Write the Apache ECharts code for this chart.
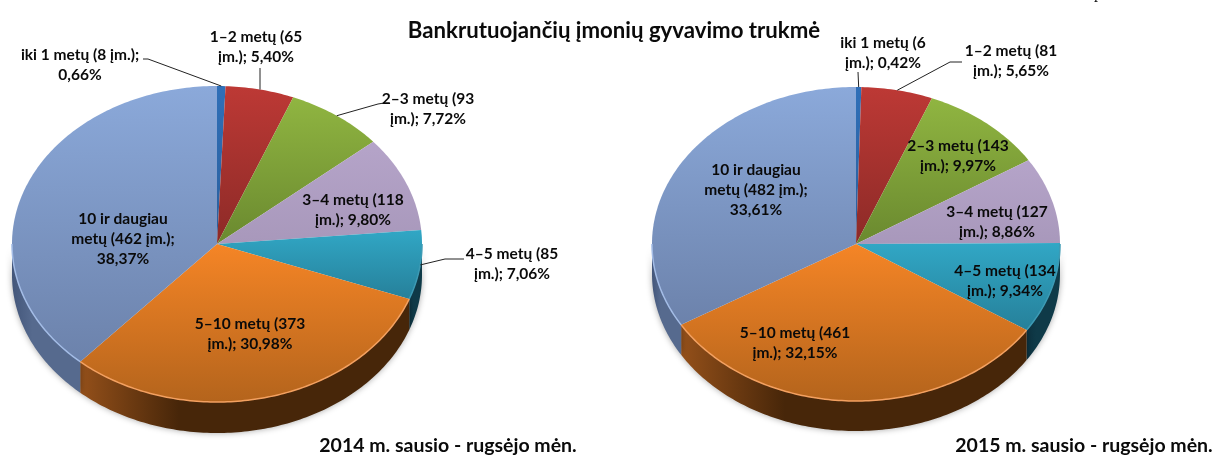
<!DOCTYPE html>
<html>
<head>
<meta charset="utf-8">
<style>html,body{margin:0;padding:0;background:#fff}#main{width:1213px;height:455px}</style>
<script src="https://cdn.jsdelivr.net/npm/echarts@6/dist/echarts.min.js"></script>
</head>
<body>
<div id="main"></div>
<script>
// duomenys
var categories = ['iki 1 metų', '1–2 metų', '2–3 metų', '3–4 metų', '4–5 metų', '5–10 metų', '10 ir daugiau metų'];
var counts2014 = [8, 65, 93, 118, 85, 373, 462];
var shares2014 = ['0,66', '5,40', '7,72', '9,80', '7,06', '30,98', '38,37'];
var counts2015 = [6, 81, 143, 127, 134, 461, 482];
var shares2015 = ['0,42', '5,65', '9,97', '8,86', '9,34', '32,15', '33,61'];

// spalvos
var faceTop = ['#2f6fb8', '#bd3935', '#90b541', '#b5a4c9', '#31a7c5', '#f58526', '#8ba9da'];
var faceBottom = ['#2a5f9c', '#8c2a27', '#6a892f', '#a898bb', '#26809a', '#b4641c', '#6c82ab'];
var sideLeft = ['#1d3f68', '#5e1c1a', '#47601f', '#6f6480', '#0c3240', '#94501a', '#43567a'];
var sideRight = ['#1d3f68', '#5e1c1a', '#47601f', '#6f6480', '#0f3a48', '#472609', '#566a8e'];
var rimColor = ['#2f6fb8', '#bd3935', '#90b541', '#b5a4c9', '#3c9ab4', '#f3a060', '#a3bce6'];

// uzrasu vietos ir linijos
var labelPos2014 = [[80, 65], [256, 47], [428, 109], [353, 210], [512, 264], [250, 334], [123, 239]];
var labelPos2015 = [[883, 53], [1011, 61], [958, 156], [997, 222], [1005, 281], [795, 343], [756, 190]];
var leader2014 = [[[148, 59], [143, 59]], [[260, 68]], [[378, 104], [384, 103]], null, [[445, 259], [464, 259]], null, null];
var leader2015 = [[[858, 72]], [[950, 62], [962, 62]], null, null, null, null, null];

function wrapLabel(text, max) {
    var words = text.split(' '), lines = [], cur = '';
    for (var i = 0; i < words.length; i++) {
        if (cur && (cur + ' ' + words[i]).length > max) {
            lines.push(cur);
            cur = words[i];
        } else {
            cur = cur ? cur + ' ' + words[i] : words[i];
        }
    }
    lines.push(cur);
    return lines.join('\n');
}

function arcPoints(pie, from, to, dy) {
    var pts = [], n = Math.max(2, Math.ceil((to - from) * 60));
    for (var k = 0; k <= n; k++) {
        var t = from + (to - from) * k / n;
        pts.push([pie.cx + pie.rx * Math.sin(t), pie.cy - pie.ry * Math.cos(t) + dy]);
    }
    return pts;
}

function pieSeries(pie, counts, shares, labelPos, leader, wrap) {
    var total = counts.reduce(function (a, b) { return a + b; }, 0);
    return {
        type: 'custom',
        coordinateSystem: 'none',
        silent: true,
        data: counts,
        renderItem: function (params, api) {
            var i = params.dataIndex, sum = 0;
            for (var j = 0; j < i; j++) sum += counts[j];
            var from = sum / total * Math.PI * 2;
            var to = (sum + counts[i]) / total * Math.PI * 2;
            var mid = (from + to) / 2;
            var children = [];

            // sonas (tik priekine dalis)
            var a = Math.max(from, Math.PI / 2), b = Math.min(to, Math.PI * 1.5);
            if (b > a) {
                var top = arcPoints(pie, a, b, 0);
                var bot = arcPoints(pie, a, b, pie.depth).reverse();
                children.push({
                    type: 'polygon',
                    z2: 1,
                    shape: { points: top.concat(bot) },
                    style: {
                        fill: new echarts.graphic.LinearGradient(0, 0, 1, 0, [
                            { offset: 0, color: sideLeft[i] },
                            { offset: 0.3, color: sideRight[i] },
                            { offset: 1, color: sideRight[i] }
                        ]),
                        shadowBlur: 6,
                        shadowColor: 'rgba(0,0,0,0.35)'
                    }
                });
            }

            // virsus
            children.push({
                type: 'polygon',
                z2: 2,
                shape: { points: [[pie.cx, pie.cy]].concat(arcPoints(pie, from, to, 0)) },
                style: {
                    fill: new echarts.graphic.LinearGradient(0, 0, 0, 1, [
                        { offset: 0, color: faceTop[i] },
                        { offset: 1, color: faceBottom[i] }
                    ])
                }
            });

            // sviesus krastas
            if (b > a) {
                children.push({
                    type: 'polyline',
                    z2: 3,
                    shape: { points: arcPoints(pie, a, b, 0) },
                    style: { fill: 'none', stroke: rimColor[i], lineWidth: 1.5 }
                });
            }

            // linijos
            if (leader[i]) {
                var start = arcPoints(pie, mid, mid, 0)[0];
                children.push({
                    type: 'polyline',
                    z2: 3,
                    shape: { points: [start].concat(leader[i]) },
                    style: { fill: 'none', stroke: '#222', lineWidth: 1 }
                });
            }

            // uzrasas
            var text = categories[i] + ' (' + counts[i] + ' įm.); ' + shares[i] + '%';
            children.push({
                type: 'text',
                z2: 4,
                x: labelPos[i][0],
                y: labelPos[i][1],
                style: {
                    text: wrapLabel(text, i === 0 ? wrap : 17),
                    fontFamily: 'Lato',
                    fontWeight: 'bold',
                    fontSize: 15.5,
                    lineHeight: 20,
                    fill: '#0a0a0a',
                    align: 'center',
                    verticalAlign: 'middle'
                }
            });
            return { type: 'group', children: children };
        }
    };
}

var chart = echarts.init(document.getElementById('main'));
var option = {
    animation: false,
    backgroundColor: '#fff',
    title: [
        { text: 'Bankrutuojančių įmonių gyvavimo trukmė', left: 609, top: 15, textAlign: 'center',
          textStyle: { fontFamily: 'Lato', fontWeight: 'bold', fontSize: 22.2, color: '#0a0a0a' } },
        { text: '2014 m. sausio - rugsėjo mėn.', left: 443, top: 431, textAlign: 'center',
          textStyle: { fontFamily: 'Lato', fontWeight: 'bold', fontSize: 19.5, color: '#0a0a0a' } },
        { text: '2015 m. sausio - rugsėjo mėn.', left: 1079, top: 431, textAlign: 'center',
          textStyle: { fontFamily: 'Lato', fontWeight: 'bold', fontSize: 19.5, color: '#0a0a0a' } }
    ],
    graphic: [
        // nukirsta raide virsuje
        { type: 'text', x: 1094, y: -14, style: { text: 'p', fontFamily: 'Liberation Serif', fontSize: 16, fill: '#111' } }
    ],
    series: [
        pieSeries({ cx: 217, cy: 244, rx: 205, ry: 158, depth: 31 }, counts2014, shares2014, labelPos2014, leader2014, 20),
        pieSeries({ cx: 856, cy: 244, rx: 204, ry: 157, depth: 30 }, counts2015, shares2015, labelPos2015, leader2015, 17)
    ]
};
chart.setOption(option);
</script>
</body>
</html>
